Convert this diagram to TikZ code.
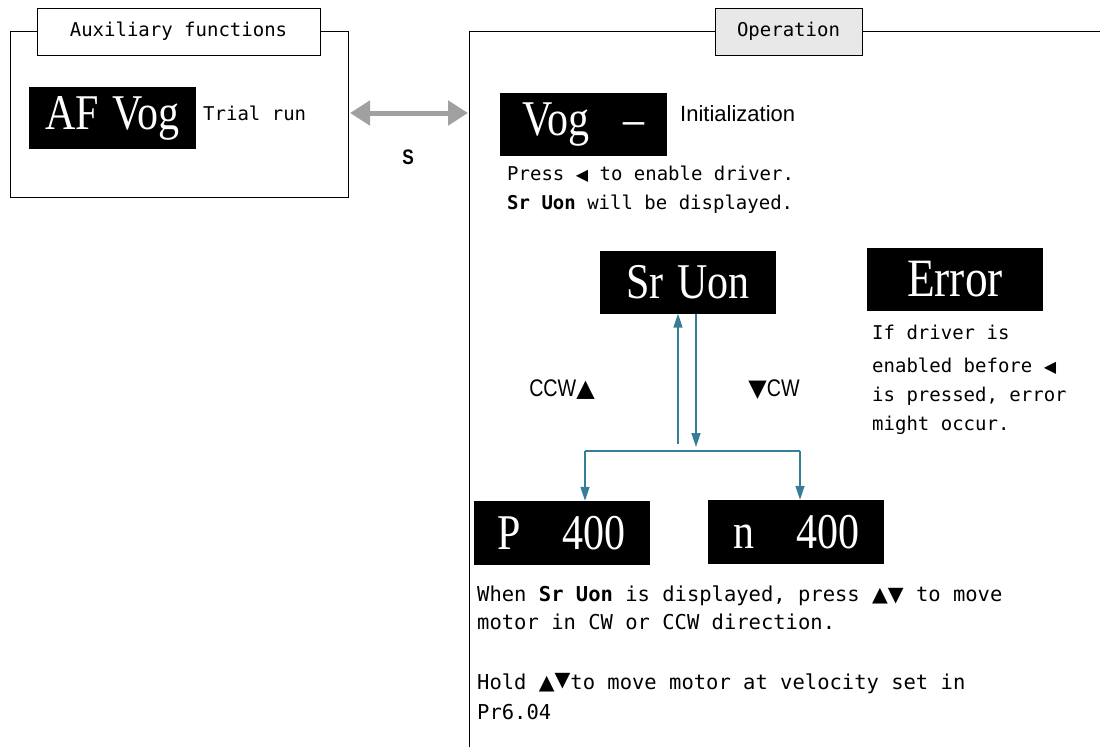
\documentclass[tikz,border=0pt]{standalone}
\usepackage{fontspec}
\usetikzlibrary{arrows.meta,positioning}
\newfontfamily\lcdfont[FakeStretch=0.84]{Liberation Serif}
\newfontfamily\monofont{DejaVu Sans Mono}
\newfontfamily\labelfont{Liberation Sans}
\newfontfamily\narrowfont[FakeStretch=0.82]{Liberation Sans}
\newfontfamily\symfont{DejaVu Sans}
\definecolor{flowteal}{RGB}{52,126,152}
\definecolor{arrowgray}{RGB}{160,160,160}
\definecolor{tabgray}{RGB}{232,232,232}
\newcommand{\tri}[1]{{\symfont #1}}
\begin{document}
\begin{tikzpicture}[x=1pt,y=-1pt,line join=miter,
  lcd/.style={fill=black,text=white,minimum width=176pt,minimum height=63pt,inner sep=0pt,
    font=\lcdfont\fontsize{50}{50}\selectfont},
  tab/.style={draw,line width=1pt,minimum height=47pt,inner sep=0pt,
    font=\monofont\fontsize{19}{19}\selectfont},
  note/.style={anchor=base west,inner sep=0pt,font=\monofont\fontsize{19}{19}\selectfont},
  widenote/.style={note,font=\monofont\fontsize{20.5}{20.5}\selectfont},
  flow/.style={draw=flowteal,line width=1.6pt},
  flowarrow/.style={flow,-{Triangle[width=9pt,length=14pt]}}]
  \useasboundingbox (0,0) rectangle (1100,747);
  % frames and tabs
  \draw[line width=1pt] (10,31) rectangle (348,197);
  \node[tab,fill=white,minimum width=283pt] (auxtab) at (178.5,31.5) {Auxiliary functions};
  \draw[line width=1pt] (469,747) -- (469,31) -- (1100,31);
  \node[tab,fill=tabgray,minimum width=147pt] (optab) at (788.5,31.5) {Operation};
  % auxiliary side
  \node[lcd,minimum width=167pt,minimum height=62pt] (afvog) at (112.5,118) {AF\hspace{14pt}Vog};
  \node[note] (trial) at (203,120) {Trial run};
  \coordinate (auxright) at (350,113);
  \coordinate (opleft) at (468,113);
  \draw[arrowgray,line width=5pt,{Triangle[width=24pt,length=20pt]}-{Triangle[width=24pt,length=20pt]}]
    (auxright) -- (opleft);
  \node[font=\narrowfont\bfseries\fontsize{21}{21}\selectfont] (skey) at (408,157) {S};
  % operation side
  \node[lcd,minimum width=167pt] (vog) at (583.5,124.5) {Vog\hspace{34pt}–\hspace{20pt}};
  \node[anchor=base west,inner sep=0pt,font=\labelfont\fontsize{22}{22}\selectfont] (init) at (680,121) {Initialization};
  \node[note] (press) at (507,180) {Press \tri{\fontsize{16}{16}\selectfont ◀} to enable driver.};
  \node[note] (shown) at (507,209) {\textbf{Sr Uon} will be displayed.};
  \node[lcd] (sruon) at (688,282) {Sr\hspace{14pt}Uon};
  \node[lcd] (error) at (955,279) {\fontsize{54}{54}\selectfont Error};
  \node[note] (err1) at (872,339) {If driver is};
  \node[note] (err2) at (872,372) {enabled before \tri{\fontsize{16}{16}\selectfont ◀}};
  \node[note] (err3) at (872,401) {is pressed, error};
  \node[note] (err4) at (872,430) {might occur.};
  \node[font=\narrowfont\fontsize{24}{24}\selectfont] (ccw) at (562,390) {CCW\tri{▲}};
  \node[font=\narrowfont\fontsize{24}{24}\selectfont] (cw) at (774,390) {\tri{▼}CW};
  \node[lcd,minimum height=64pt] (ppos) at (561.5,533) {P\hspace{42pt}400};
  \node[lcd,minimum height=64pt] (nspeed) at (796,532) {n\hspace{42pt}400};
  % connectors
  \coordinate (upstart) at (678,444);
  \coordinate (downend) at (696,447);
  \coordinate (forkL) at (585,451);
  \coordinate (forkR) at (800,451);
  \draw[flowarrow] (upstart) -- (upstart |- sruon.south);
  \draw[flowarrow] (downend |- sruon.south) -- (downend);
  \draw[flow] (forkL) -- (forkR);
  \draw[flowarrow] (forkL) -- (forkL |- ppos.north);
  \draw[flowarrow] (forkR) -- (forkR |- nspeed.north);
  % notes below
  \node[widenote] (jog1) at (477,601) {When \textbf{Sr Uon} is displayed, press \tri{▲▼} to move};
  \node[widenote] (jog2) at (477,629) {motor in CW or CCW direction.};
  \node[widenote] (hold1) at (477,689) {Hold \tri{▲\raisebox{3pt}{▼}}to move motor at velocity set in};
  \node[widenote] (hold2) at (477,719) {Pr6.04};
\end{tikzpicture}
\end{document}
